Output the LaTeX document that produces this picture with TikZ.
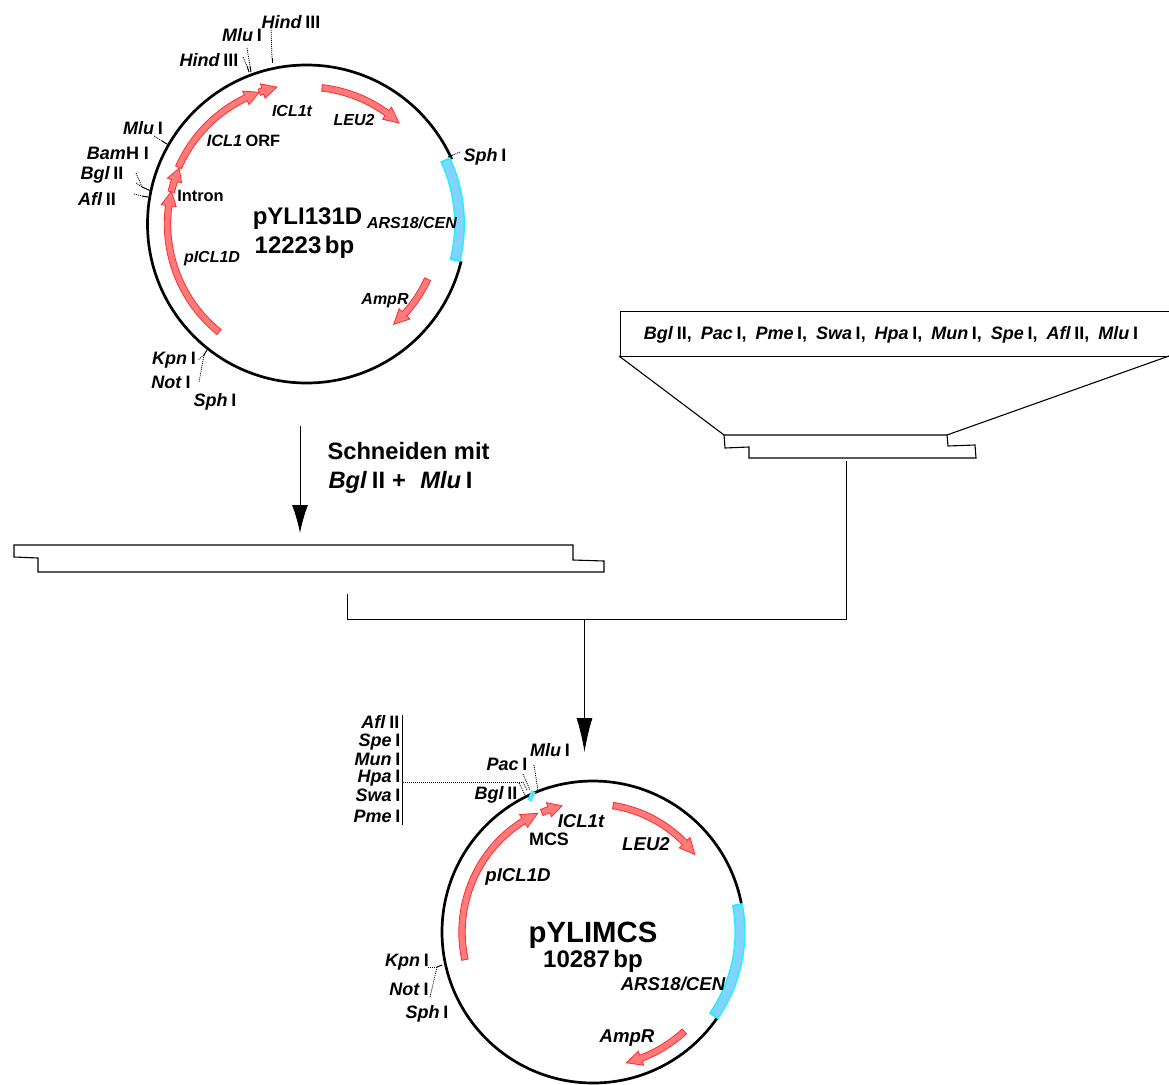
\documentclass[tikz,border=0pt]{standalone}
\usepackage{fontspec}
\setmainfont{Liberation Sans}
\definecolor{arrowfill}{HTML}{FF7B7B}
\definecolor{arrowline}{HTML}{FF2A2A}
\definecolor{oriFill}{HTML}{80D4FF}
\definecolor{oriEdge}{HTML}{22EEFF}
\newcommand{\enz}[2]{\textbf{\textit{#1}\kern.2em #2}}
\newcommand{\bi}[1]{\textbf{\textit{#1}}}
\newcommand{\sep}{\textbf{,}\kern.5em}
% cx cy r start end shaftwidth headwidth headdeg
\newcommand{\blockarrow}[8]{%
  \pgfmathsetmacro{\hs}{#5-(#8)*((#5>#4)-(#5<#4))}%
  \filldraw[arrowpart]
    plot[domain=#4:\hs,samples=24] ({#1+(#3+#6/2)*cos(\x)},{#2+(#3+#6/2)*sin(\x)})
    -- ({#1+(#3+#7/2)*cos(\hs)},{#2+(#3+#7/2)*sin(\hs)})
    -- ({#1+#3*cos(#5)},{#2+#3*sin(#5)})
    -- ({#1+(#3-#7/2)*cos(\hs)},{#2+(#3-#7/2)*sin(\hs)})
    -- plot[domain=\hs:#4,samples=24] ({#1+(#3-#6/2)*cos(\x)},{#2+(#3-#6/2)*sin(\x)})
    -- cycle;}
\newcommand{\cenband}[7]{% cx cy r start end width colour
  \draw[#7,line width=#6pt]
    plot[domain=#4:#5,samples=30] ({#1+#3*cos(\x)},{#2+#3*sin(\x)});}
\tikzset{
  arrowpart/.style={draw=arrowline,fill=arrowfill,line width=0.8pt,line join=miter},
  plasmid/.style={draw=black,line width=2.7pt},
  outline/.style={draw=black,line width=1.1pt,line join=miter},
  site/.style={draw=black,line width=0.8pt,dash pattern=on 1pt off 1pt},
  sitesolid/.style={draw=black,line width=1pt},
  lab/.style={inner sep=0pt,font=\fontsize{18}{18}\selectfont,text=black,anchor=center},
  labs/.style={inner sep=0pt,font=\fontsize{16}{16}\selectfont\bfseries\itshape,text=black,anchor=center},
  labm/.style={inner sep=0pt,font=\fontsize{18.6}{18.6}\selectfont\bfseries\itshape,text=black,anchor=center},
  plain/.style={inner sep=0pt,font=\fontsize{16.4}{16.4}\selectfont,text=black,anchor=center},
  big/.style={inner sep=0pt,font=\fontsize{24}{26}\selectfont\bfseries,text=black,anchor=center},
  steptext/.style={inner sep=0pt,font=\fontsize{23.7}{24}\selectfont,text=black},
  flow/.style={draw=black,line width=1pt},
  bigtip/.style={-{Latex[length=28pt,width=16pt]}},
  bigtipb/.style={-{Latex[length=34pt,width=16pt]}},
}
\usetikzlibrary{arrows.meta}
\begin{document}
\begin{tikzpicture}[x=1pt,y=-1pt]
\useasboundingbox (0,0) rectangle (1169,1084);
\fill[white] (0,0) rectangle (1169,1084);

%% ---------- Plasmid pYLI131D ----------
\def\cxa{306.5}\def\cya{224}
\node[plasmid,circle,minimum size=318pt,inner sep=0pt] (plasA) at (\cxa,\cya) {};
\cenband{\cxa}{\cya}{159}{-24}{13.5}{5}{white}
\cenband{\cxa}{\cya}{153}{-25}{14}{11}{oriEdge}
\cenband{\cxa}{\cya}{153}{-24.2}{13.2}{8}{oriFill}
\blockarrow{\cxa}{\cya}{137}{-83.5}{-47.5}{6.5}{15}{6.5}
\blockarrow{\cxa}{\cya}{133}{24.5}{49}{6.5}{15}{6.5}
\blockarrow{\cxa}{\cya}{139}{129}{193.6}{6.5}{15}{6}
\blockarrow{\cxa}{\cya}{139}{193.4}{203.7}{6.5}{15}{5.5}
\blockarrow{\cxa}{\cya}{140}{203.9}{250.3}{6.5}{15}{6}
\blockarrow{\cxa}{\cya}{140}{250.3}{257.8}{6.5}{15}{6}

\node[big] (nameA) at (307.5,219) {pYLI131D};
\node[big] (sizeA) at (304.5,247) {12223\kern.15em bp};
\node[labs] (lLEU) at (354,120) {LEU2};
\node[labs] (lICLt) at (292,111) {ICL1t};
\node[plain] (lICLo) at (243.5,141) {\bi{ICL1}\kern.2em\textbf{ORF}};
\node[plain] (lIntron) at (200.5,196) {\textbf{Intron}};
\node[labs] (lpICL) at (212,259) {pICL1D};
\node[labs] (lARS) at (412,223) {ARS18/CEN};
\node[labs] (lAmp) at (385,301) {AmpR};

\node[lab] (eHind1) at (291,22) {\enz{Hind}{III}};
\node[lab] (eMlu1) at (242,35) {\enz{Mlu}{I}};
\node[lab] (eHind2) at (209,60) {\enz{Hind}{III}};
\node[lab] (eMlu2) at (143,128) {\enz{Mlu}{I}};
\node[lab] (eBam) at (118,153) {\enz{Bam}{\kern-.2emH I}};
\node[lab] (eBgl1) at (102,175) {\enz{Bgl}{II}};
\node[lab] (eAfl1) at (97,199) {\enz{Afl}{II}};
\node[lab] (eSph1) at (485,157) {\enz{Sph}{I}};
\node[lab] (eKpn1) at (174,360) {\enz{Kpn}{I}};
\node[lab] (eNot1) at (171,382) {\enz{Not}{I}};
\node[lab] (eSph2) at (215,402) {\enz{Sph}{I}};

\draw[site] (271,28) -- (272,59);
\draw[sitesolid] (272,58) -- (272,63);
\draw[site] (247,48) -- (250,66);
\draw[sitesolid] (250,66) -- (251,72);
\draw[site] (243,57) -- (247,66);
\draw[sitesolid] (247,66) -- (249,72);
\draw[site] (154,136) -- (162,141);
\draw[sitesolid] (162,141) -- (167,144);
\draw[site] (136,173) -- (142,187);
\draw[site] (136,183) -- (142,187);
\draw[sitesolid] (142,187) -- (151,191);
\draw[site] (134,194) -- (142,196);
\draw[sitesolid] (142,196) -- (148,197);
\draw[site] (460,152) -- (453,155);
\draw[sitesolid] (453,155) -- (448,157);
\draw[sitesolid] (207,350) -- (204,355);
\draw[site] (204,355) -- (198,360);
\draw[site] (204,355) -- (199,382);

%% ---------- Step label and arrow ----------
\coordinate (a1s) at (300,426);
\coordinate (a1e) at (300,533);
\draw[flow,bigtip] (a1s) -- (a1e);
\node[steptext] (step1) at (408.5,451) {\textbf{Schneiden mit}};
\node[steptext] (step2) at (400.5,482) {\enz{Bgl}{II}\textbf{\kern.3em+\kern.6em}\enz{Mlu}{I}};

%% ---------- Linearised vector ----------
\draw[outline] (14,557) -- (14,545) -- (573,545) -- (573,560) -- (604,561) -- (604,572) -- (38,572) -- (38,558) -- cycle;

%% ---------- MCS insert ----------
\node[draw=black,line width=1.1pt,inner sep=0pt,minimum width=552pt,minimum height=45pt,anchor=north west] (mcs) at (619.5,311) {};
\node[lab] (mcstext) at (891,334.5) {\enz{Bgl}{II}\sep\enz{Pac}{I}\sep\enz{Pme}{I}\sep\enz{Swa}{I}\sep\enz{Hpa}{I}\sep\enz{Mun}{I}\sep\enz{Spe}{I}\sep\enz{Afl}{II}\sep\enz{Mlu}{I}};
\coordinate (fanL) at (619,356);
\coordinate (fanR) at (1169,356);
\draw[outline] (fanL) -- (724,435);
\draw[outline] (fanR) -- (947,435);
\draw[outline] (724,435) -- (725,448) -- (749,447) -- (749,458) -- (976,458) -- (975,445) -- (948,446) -- (947,435) -- cycle;

%% ---------- Ligation ----------
\coordinate (j1) at (846,461);
\coordinate (j2) at (846,619);
\coordinate (j3) at (347,619);
\coordinate (j4) at (347,594);
\draw[flow] (j1) -- (j2) -- (j3) -- (j4);
\coordinate (a2s) at (584.5,619);
\coordinate (a2e) at (584.5,752);
\draw[flow,bigtipb] (a2s) -- (a2e);

%% ---------- Plasmid pYLIMCS ----------
\def\cxb{593}\def\cyb{932}
\node[plasmid,circle,minimum size=302pt,inner sep=0pt] (plasB) at (\cxb,\cyb) {};
\cenband{\cxb}{\cyb}{151}{-10}{34.5}{5}{white}
\cenband{\cxb}{\cyb}{147}{-11}{35}{11}{oriEdge}
\cenband{\cxb}{\cyb}{147}{-10.2}{34.2}{8}{oriFill}
\blockarrow{\cxb}{\cyb}{131}{167.8}{245}{6.5}{15}{7}
\blockarrow{\cxb}{\cyb}{130}{246.8}{256.2}{6.5}{15}{6}
\blockarrow{\cxb}{\cyb}{128}{-81}{-37.3}{6.5}{15}{7}
\blockarrow{\cxb}{\cyb}{135}{47.4}{75.7}{6.5}{15}{6.5}
\node[draw=oriEdge,fill=oriFill,inner sep=0pt,minimum width=3.5pt,minimum height=9pt,rotate=-25,line width=1pt] (mcsmark) at (531.5,796) {};

\node[inner sep=0pt,font=\fontsize{29.3}{29.3}\selectfont\bfseries] (nameB) at (593,935) {pYLIMCS};
\node[big] (sizeB) at (593,961) {10287\kern.15em bp};
\node[labm] (lICLtb) at (581,821) {ICL1t};
\node[lab] (lMCS) at (549,839) {\textbf{MCS}};
\node[labm] (lLEUb) at (646,844) {LEU2};
\node[labm] (lpICLb) at (518,877) {pICL1D};
\node[labm] (lARSb) at (673,984) {ARS18/CEN};
\node[labm] (lAmpb) at (627,1038) {AmpR};

\node[lab,anchor=east] (eAfl2) at (399.5,722) {\enz{Afl}{II}};
\node[lab,anchor=east] (eSpe) at (400.5,742) {\enz{Spe}{I}};
\node[lab,anchor=east] (eMun) at (400.5,759) {\enz{Mun}{I}};
\node[lab,anchor=east] (eHpa) at (400.5,778) {\enz{Hpa}{I}};
\node[lab,anchor=east] (eSwa) at (400.5,795) {\enz{Swa}{I}};
\node[lab,anchor=east] (ePme) at (400.5,816) {\enz{Pme}{I}};
\node[lab] (ePac) at (507,764) {\enz{Pac}{I}};
\node[lab] (eMlu3) at (550,750) {\enz{Mlu}{I}};
\node[lab] (eBgl2) at (496,795) {\enz{Bgl}{II}};
\node[lab] (eKpn2) at (407,962) {\enz{Kpn}{I}};
\node[lab] (eNot2) at (409,989) {\enz{Not}{I}};
\node[lab] (eSph3) at (427,1014) {\enz{Sph}{I}};

\coordinate (barT) at (402,715);
\coordinate (barB) at (402,825);
\draw[sitesolid] (barT) -- (barB);
\draw[site] (403,782) -- (523,782);
\draw[site] (523,774) -- (530,790);
\draw[site] (534,765) -- (538,791);
\draw[site] (519,783) -- (526,797);
\draw[site] (523,782) -- (527,790);
\draw[sitesolid] (442,965) -- (437,967);
\draw[site] (437,967) -- (428,967);
\draw[site] (437,967) -- (430,997);
\end{tikzpicture}
\end{document}
